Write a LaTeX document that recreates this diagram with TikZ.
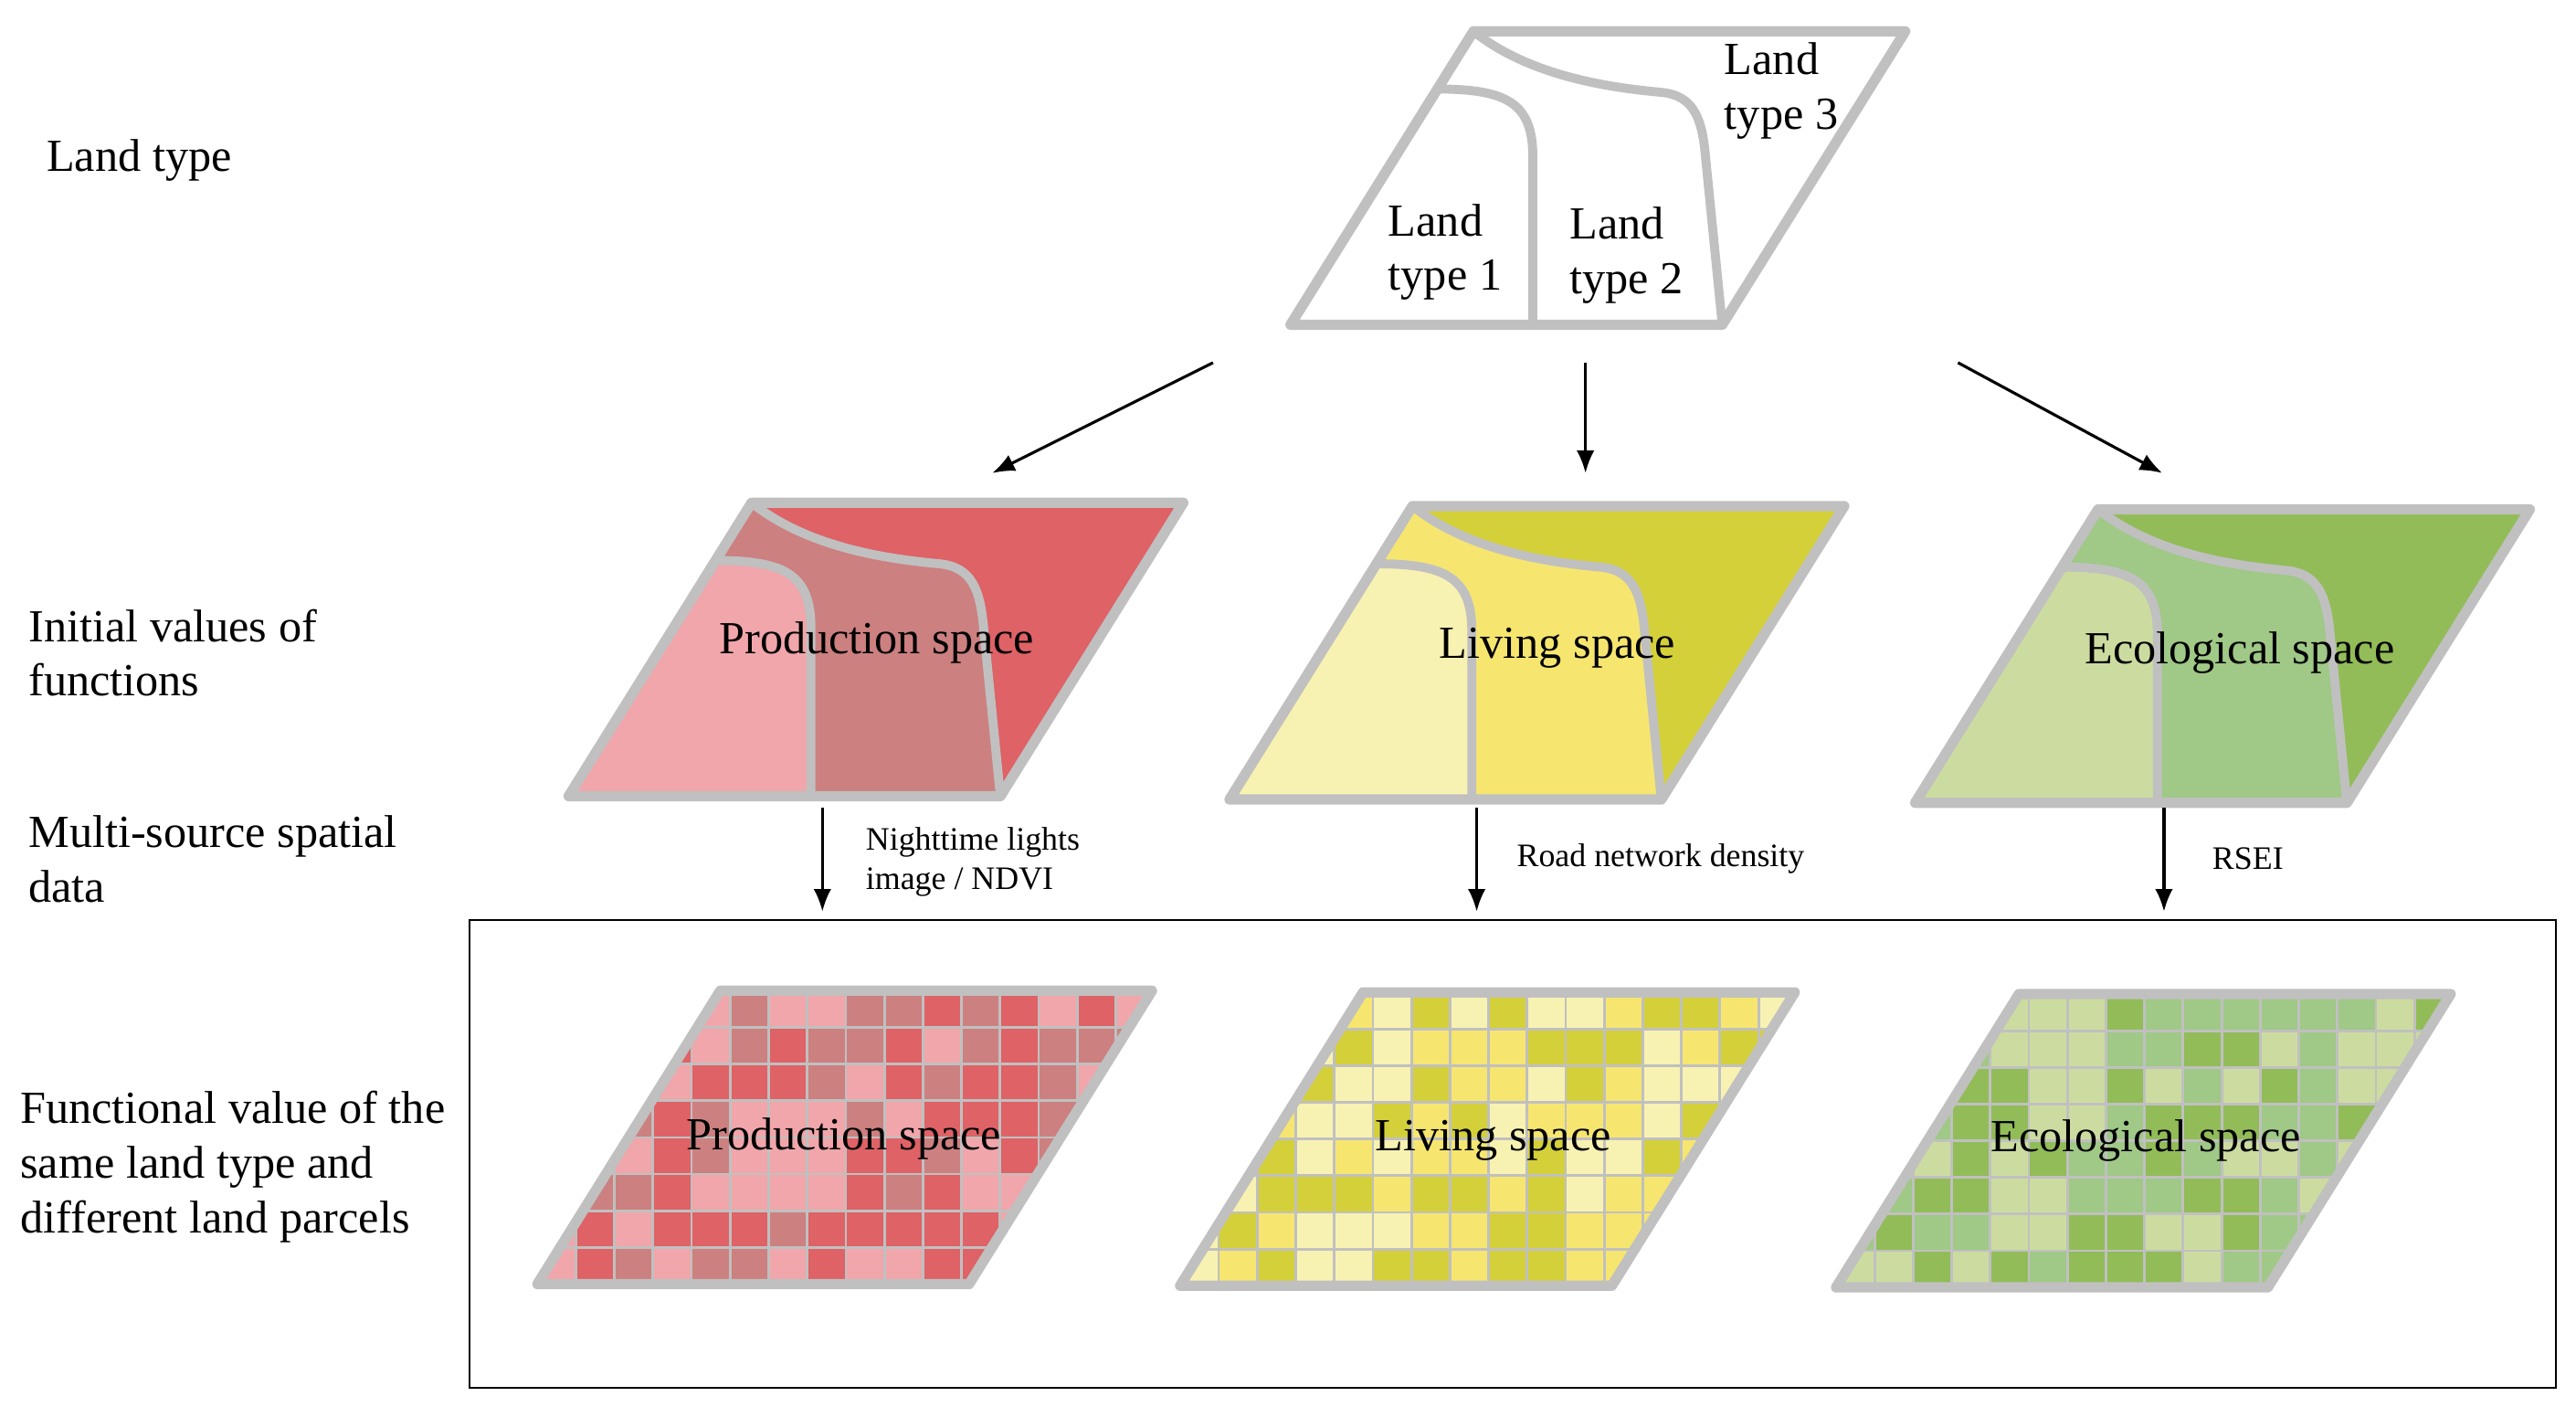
\documentclass[tikz,border=0pt]{standalone}
\usepackage{fontspec}
\setmainfont{Liberation Serif}
\usepackage{xcolor}
\usetikzlibrary{arrows.meta}

\definecolor{bordergray}{RGB}{192,192,192}
\definecolor{pa1}{RGB}{240,166,170}
\definecolor{pa2}{RGB}{204,128,128}
\definecolor{pa3}{RGB}{222,98,102}
\definecolor{la1}{RGB}{248,242,178}
\definecolor{la2}{RGB}{246,230,112}
\definecolor{la3}{RGB}{212,208,58}
\definecolor{ea1}{RGB}{204,220,160}
\definecolor{ea2}{RGB}{160,200,135}
\definecolor{ea3}{RGB}{146,188,88}

\tikzset{
  border/.style={draw=bordergray, line width=3.2pt, line join=round},
  bound/.style={draw=bordergray, line width=2.8pt},
  cellline/.style={draw=bordergray, line width=0.8pt},
  flow/.style={-{Latex[length=7pt,width=5.5pt]}, line width=0.9pt},
  lab/.style={font=\fontsize{14.3}{17}\selectfont, align=left, inner sep=0pt},
  note/.style={font=\fontsize{10.2}{12.3}\selectfont, align=left, inner sep=0pt}
}

\newcommand{\landmap}[5]{%
  \begin{scope}[shift={(#1,#2)},yscale=-1]
    \fill[#4] (0,0) -- (262,0) -- (373,178) -- (111,178) -- cycle;
    \fill[#3] (0,0) -- (89,143) .. controls (130,143) and (146,135) .. (147,105) -- (147,0) -- cycle;
    \fill[#5] (111,178) -- (373,178) -- (262,0) -- (252,100) .. controls (250,125) and (245,139) .. (225,141) .. controls (180,145) and (140,155) .. (111,178) -- cycle;
    \draw[bound] (89,143) .. controls (130,143) and (146,135) .. (147,105) -- (147,0);
    \draw[bound] (111,178) .. controls (140,155) and (180,145) .. (225,141) .. controls (245,139) and (250,125) .. (252,100) -- (262,0);
    \draw[border] (0,0) -- (262,0) -- (373,178) -- (111,178) -- cycle;
  \end{scope}}

\newcommand{\landgrid}[4]{%
  \begin{scope}
    \clip (#1,#2) -- ++(262,0) -- ++(111,-178) -- ++(-262,0) -- cycle;
    \pgfmathsetseed{#4}
    \foreach \i in {0,...,15} {
      \foreach \j in {0,...,7} {
        \pgfmathrandominteger{\cid}{1}{3}
        \draw[cellline, fill=#3\cid] ({#1+\i*23.4},{#2-\j*22.25}) rectangle ++(23.4,-22.25);
      }
    }
  \end{scope}
  \draw[border] (#1,#2) -- ++(262,0) -- ++(111,-178) -- ++(-262,0) -- cycle;}

\begin{document}
\begin{tikzpicture}[x=0.018042cm,y=-0.018042cm]
  \useasboundingbox (0,0) rectangle (1563,853);

  \node[lab, anchor=west] (ltype) at (28,97) {Land type};
  \node[lab, anchor=west] (initval) at (17,396) {Initial values of\\functions};
  \node[lab, anchor=west] (multisrc) at (17,521) {Multi-source spatial\\data};
  \node[lab, anchor=west] (funcval) at (12,708) {Functional value of the\\same land type and\\different land parcels};

  \landmap{783}{197}{white}{white}{white}
  \node[lab, anchor=west] (lt1) at (842,153) {Land\\type 1};
  \node[lab, anchor=west] (lt2) at (952,155) {Land\\type 2};
  \node[lab, anchor=west] (lt3) at (1046,55) {Land\\type 3};

  \landmap{345}{483}{pa1}{pa2}{pa3}
  \landmap{746}{485}{la1}{la2}{la3}
  \landmap{1162}{487}{ea1}{ea2}{ea3}
  \node[lab] (prod) at (532,390) {Production space};
  \node[lab] (liv) at (945,393) {Living space};
  \node[lab] (eco) at (1359,396) {Ecological space};

  \coordinate (s1) at (736,220);
  \coordinate (s2) at (962,220);
  \coordinate (s3) at (1188,220);
  \coordinate (e1) at (602,287);
  \coordinate (e2) at (962,287);
  \coordinate (e3) at (1312,287);
  \draw[flow] (s1) -- (e1);
  \draw[flow] (s2) -- (e2);
  \draw[flow] (s3) -- (e3);

  \coordinate (ps) at (499,490);
  \coordinate (ls) at (896,490);
  \coordinate (es) at (1313,490);
  \coordinate (pe) at (499,553);
  \coordinate (le) at (896,553);
  \coordinate (ee) at (1313,553);
  \draw[flow] (ps) -- (pe);
  \draw[flow] (ls) -- (le);
  \draw[flow] (es) -- (ee);
  \node[note, anchor=west] (ntl) at (525,523) {Nighttime lights\\image / NDVI};
  \node[note, anchor=west] (rnd) at (920,521) {Road network density};
  \node[note, anchor=west] (rsei) at (1342,521) {RSEI};

  \draw[line width=0.6pt] (285,558) rectangle (1551,842);

  \landgrid{326}{779}{pa}{11}
  \landgrid{716}{780}{la}{23}
  \landgrid{1114}{781}{ea}{37}
  \node[lab] (prodg) at (512,691) {Production space};
  \node[lab] (livg) at (906,692) {Living space};
  \node[lab] (ecog) at (1302,692) {Ecological space};
\end{tikzpicture}
\end{document}
